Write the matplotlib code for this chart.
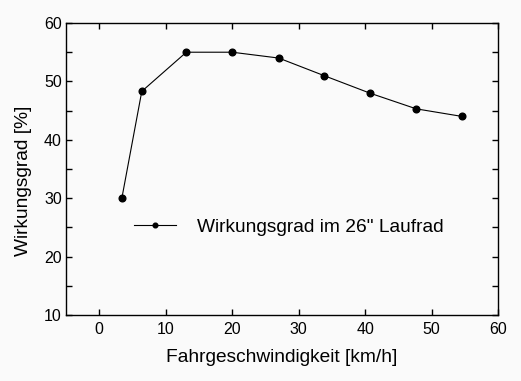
import matplotlib.pyplot as plt
from matplotlib.ticker import MultipleLocator

plt.rcParams['font.family'] = ['Liberation Sans', 'DejaVu Sans']

# data
speed = [3.4, 6.4, 13.1, 20.0, 27.0, 33.8, 40.7, 47.7, 54.6]
efficiency = [30.0, 48.3, 55.0, 55.0, 54.0, 51.0, 48.0, 45.3, 44.0]
series_label = 'Wirkungsgrad im 26" Laufrad'

bg = '#fafafa'
fig = plt.figure(figsize=(5.21, 3.81), dpi=100, facecolor=bg)
ax = fig.add_axes([0.1267, 0.1732, 0.8293, 0.7664], facecolor=bg)

ax.plot(speed, efficiency, color='black', lw=0.8, marker='o', ms=4.8,
        label=series_label)

ax.set_xlim(-5, 60)
ax.set_ylim(10, 60)
ax.xaxis.set_major_locator(MultipleLocator(10))
ax.yaxis.set_major_locator(MultipleLocator(10))
ax.yaxis.set_minor_locator(MultipleLocator(5))
ax.tick_params(which='both', direction='in', top=True, right=True,
               length=4, width=1, labelsize=11.5)
ax.tick_params(axis='x', pad=5)
ax.tick_params(axis='y', pad=3)
for s in ax.spines.values():
    s.set_linewidth(1)

ax.set_xlabel('Fahrgeschwindigkeit [km/h]', fontsize=13.8, labelpad=9)
ax.set_ylabel('Wirkungsgrad [%]', fontsize=13.8)
ax.yaxis.set_label_coords(-0.079, 0.46)

ax.legend(loc='center', bbox_to_anchor=(0.516, 0.30), frameon=False,
          fontsize=13.8, handlelength=2.2, handletextpad=1.1,
          markerscale=0.7)

fig.savefig('out.png', dpi=100, facecolor=bg)
